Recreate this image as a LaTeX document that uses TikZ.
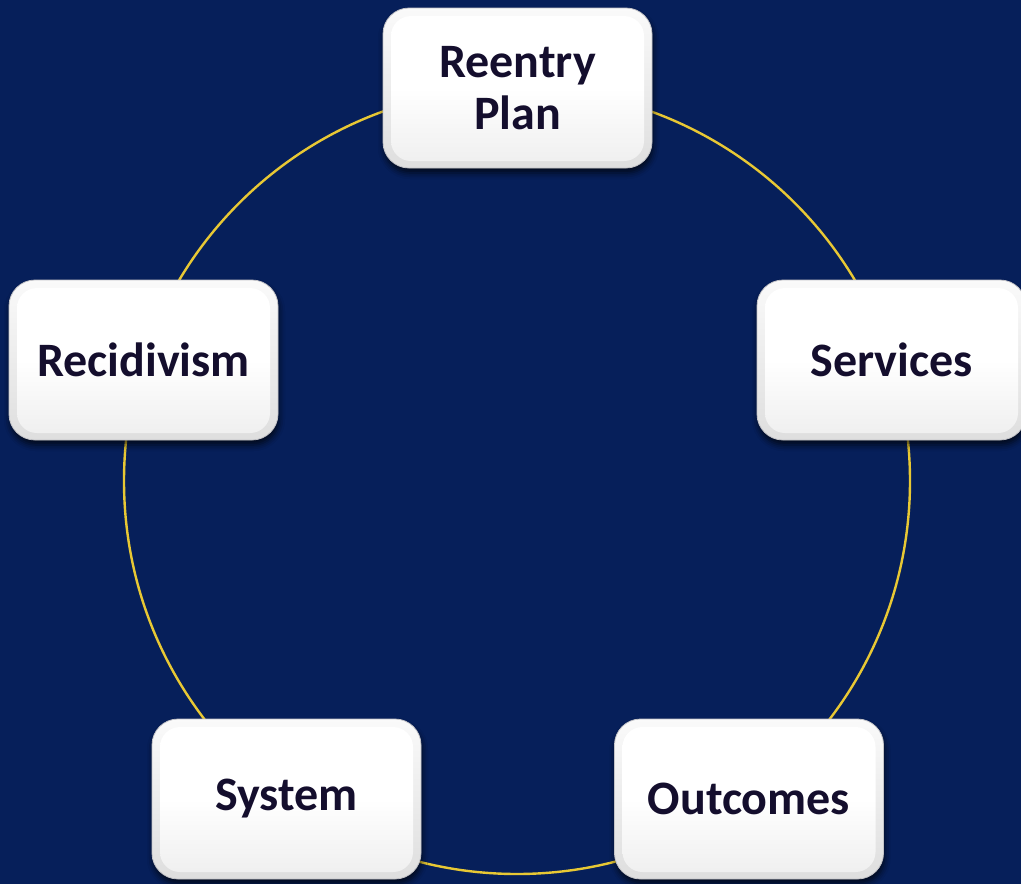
\documentclass[tikz,border=0pt]{standalone}
\usepackage{fontspec}
\setmainfont{Carlito}
\usetikzlibrary{shadows.blur}
\definecolor{bg}{RGB}{6,31,90}
\definecolor{ring}{RGB}{232,200,52}
\definecolor{txt}{RGB}{20,14,45}
\definecolor{rimtop}{RGB}{250,250,250}
\definecolor{rimbot}{RGB}{222,222,222}
\definecolor{rimedge}{RGB}{196,196,200}
\definecolor{facebot}{RGB}{238,238,238}
\tikzset{
  card/.style={rounded corners=26pt, minimum width=269pt, minimum height=160pt,
    inner sep=0pt, align=center, text=txt,
    font=\fontsize{48}{52}\selectfont\bfseries,
    top color=rimtop, bottom color=rimbot, draw=rimedge, line width=0.8pt,
    blur shadow={shadow xshift=1pt, shadow yshift=-5pt, shadow blur radius=6pt, shadow opacity=70},
    path picture={
      \shade[top color=white, bottom color=facebot, middle color=white, rounded corners=20pt]
        ([shift={(8pt,-8pt)}]path picture bounding box.north west) rectangle
        ([shift={(-8pt,7pt)}]path picture bounding box.south east);
    }},
  ringline/.style={draw=ring, line width=2.4pt}
}
\begin{document}
\begin{tikzpicture}[x=1pt,y=-1pt]
  \fill[bg] (0,0) rectangle (1021,884);
  \useasboundingbox (0,0) rectangle (1021,884);
  \coordinate (c) at (517,481);
  \draw[ringline] (c) circle[radius=393pt];
  \node[card] (plan) at (517.5,88) {Reentry\\Plan};
  \node[card] (serv) at (891.5,360) {Services};
  \node[card] (recid) at (143.5,360) {Recidivism};
  \node[card] (sys) at (286.5,799) {System};
  \node[card] (out) at (749,799) {Outcomes};
\end{tikzpicture}
\end{document}
